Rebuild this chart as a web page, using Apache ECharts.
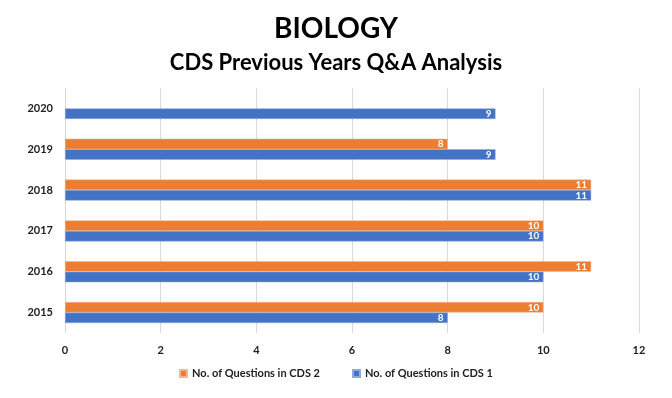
<!DOCTYPE html>
<html>
<head>
<meta charset="utf-8">
<script src="https://cdn.jsdelivr.net/npm/echarts@6/dist/echarts.min.js"></script>
<style>
html,body{margin:0;padding:0;background:#fff;}
#chart{width:672px;height:398px;}
</style>
</head>
<body>
<div id="chart"></div>
<script>
var years = ['2015', '2016', '2017', '2018', '2019', '2020'];
var cds2 = [10, 11, 10, 11, 8, null];
var cds1 = [8, 10, 10, 11, 9, 9];
var seriesNames = ['No. of Questions in CDS 2', 'No. of Questions in CDS 1'];
var xTicks = [0, 12, 2];

var FONT = 'Lato';
var chart = echarts.init(document.getElementById('chart'));

function barLabel() {
    return {
        show: true,
        position: 'insideRight',
        distance: 4,
        color: '#fff',
        fontFamily: FONT,
        fontWeight: 'bold',
        fontSize: 10
    };
}

var option = {
    animation: false,
    title: [{
        text: 'BIOLOGY',
        left: 'center',
        top: 10,
        textStyle: {fontFamily: FONT, fontWeight: 'bold', fontSize: 28, color: '#000'}
    }, {
        text: 'CDS Previous Years Q&A Analysis',
        left: 'center',
        top: 47,
        textStyle: {fontFamily: FONT, fontWeight: 'bold', fontSize: 22, color: '#000'}
    }],
    legend: {
        bottom: 14,
        left: 'center',
        itemWidth: 7,
        itemHeight: 7,
        itemGap: 32,
        icon: 'rect',
        textStyle: {fontFamily: FONT, fontWeight: 'bold', fontSize: 11, color: '#222'},
        data: seriesNames
    },
    grid: {
        left: 65,
        right: 33,
        top: 88,
        bottom: 65
    },
    xAxis: {
        type: 'value',
        min: xTicks[0],
        max: xTicks[1],
        interval: xTicks[2],
        axisLine: {show: false},
        axisTick: {show: false},
        axisLabel: {fontFamily: FONT, fontWeight: 'bold', fontSize: 11, color: '#222', margin: 12},
        splitLine: {lineStyle: {color: '#d9d9d9'}}
    },
    yAxis: {
        type: 'category',
        data: years,
        axisLine: {show: false},
        axisTick: {show: false},
        axisLabel: {fontFamily: FONT, fontWeight: 'bold', fontSize: 11, color: '#222', margin: 12}
    },
    series: [{
        name: seriesNames[0],
        type: 'bar',
        data: cds2,
        barWidth: 10.5,
        barGap: '0%',
        itemStyle: {color: '#ED7D31', borderColor: '#f6b58c', borderWidth: 0.5},
        label: barLabel()
    }, {
        name: seriesNames[1],
        type: 'bar',
        data: cds1,
        barWidth: 10.5,
        itemStyle: {color: '#4472C4', borderColor: '#8eaadb', borderWidth: 0.5},
        label: barLabel()
    }]
};
chart.setOption(option);
</script>
</body>
</html>
